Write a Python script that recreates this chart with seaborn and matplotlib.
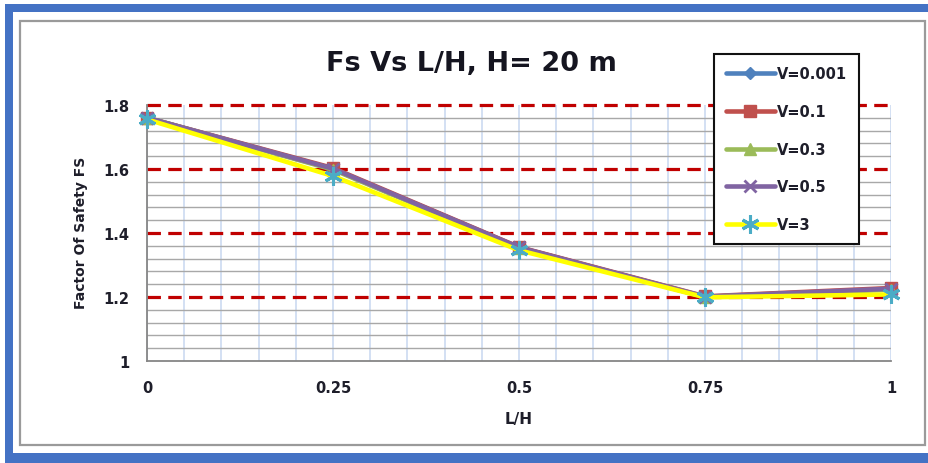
import matplotlib
matplotlib.use("Agg")
import matplotlib.pyplot as plt
import seaborn as sns
import pandas as pd
from matplotlib.patches import Rectangle
from matplotlib.ticker import MultipleLocator
from matplotlib.lines import Line2D

# ---- data ----
lh = [0, 0.25, 0.5, 0.75, 1]
v_labels = ["V=0.001", "V=0.1", "V=0.3", "V=0.5", "V=3"]
fs_v0001 = [1.760, 1.600, 1.355, 1.200, 1.225]
fs_v01 = [1.760, 1.603, 1.356, 1.202, 1.228]
fs_v03 = [1.760, 1.598, 1.353, 1.200, 1.223]
fs_v05 = [1.760, 1.601, 1.355, 1.201, 1.226]
fs_v3 = [1.755, 1.578, 1.346, 1.199, 1.208]
x_ticks = [0, 0.25, 0.5, 0.75, 1]
x_tick_labels = ["0", "0.25", "0.5", "0.75", "1"]
y_ticks = [1.0, 1.2, 1.4, 1.6, 1.8]
y_tick_labels = ["1", "1.2", "1.4", "1.6", "1.8"]

series = [fs_v0001, fs_v01, fs_v03, fs_v05, fs_v3]
df = pd.concat(
    [pd.DataFrame({"L/H": lh, "Fs": s, "V": lab}) for s, lab in zip(series, v_labels)],
    ignore_index=True,
)

sns.set_theme(style="white")
plt.rcParams["font.family"] = ["DejaVu Sans"]

W, H = 929, 464
fig = plt.figure(figsize=(W / 100, H / 100), dpi=100)
fig.patch.set_facecolor("white")

def px_rect(x0, y0, x1, y1, **kw):
    return Rectangle((x0 / W, 1 - y1 / H), (x1 - x0) / W, (y1 - y0) / H,
                     transform=fig.transFigure, **kw)

blue = "#4472C4"
fig.patches.append(px_rect(5, 5, 929, 13, facecolor=blue, edgecolor="none"))
fig.patches.append(px_rect(5, 5, 13, 464, facecolor=blue, edgecolor="none"))
fig.patches.append(px_rect(5, 454, 929, 464, facecolor=blue, edgecolor="none"))
fig.patches.append(px_rect(20, 22, 925, 446, facecolor="none", edgecolor="#9A9A9A", lw=1.6))

ax = fig.add_axes([147 / W, 1 - 362 / H, (891 - 147) / W, (362 - 106) / H])
ax.set_facecolor("white")

styles = {
    "V=0.001": dict(color="#4F81BD", marker="D", ms=6, mfc="#4F81BD", mec="#4F81BD", mew=1),
    "V=0.1": dict(color="#C0504D", marker="s", ms=9, mfc="#C0504D", mec="#C0504D", mew=1),
    "V=0.3": dict(color="#9BBB59", marker="^", ms=9, mfc="#9BBB59", mec="#9BBB59", mew=1),
    "V=0.5": dict(color="#8064A2", marker="x", ms=9, mfc="#8064A2", mec="#8064A2", mew=2),
    "V=3": dict(color="#FFFF00", marker=(6, 2, 0), ms=13, mfc="#4BACC6", mec="#4BACC6", mew=2.2),
}

for lab in v_labels:
    st = styles[lab]
    sub = df[df["V"] == lab]
    sns.lineplot(data=sub, x="L/H", y="Fs", ax=ax, color=st["color"], lw=3.3,
                 marker=st["marker"], markersize=st["ms"], markerfacecolor=st["mfc"],
                 markeredgecolor=st["mec"], markeredgewidth=st["mew"],
                 clip_on=False, zorder=5, legend=False)

ax.set_xlim(0, 1)
ax.set_ylim(1.0, 1.8)
ax.set_xticks(x_ticks)
ax.set_xticklabels(x_tick_labels)
ax.set_yticks(y_ticks)
ax.set_yticklabels(y_tick_labels)
ax.xaxis.set_minor_locator(MultipleLocator(0.05))
ax.yaxis.set_minor_locator(MultipleLocator(0.04))

ax.grid(which="both", axis="x", color="#D3E0F3", lw=1.4, zorder=0)
ax.grid(which="minor", axis="y", color="#A8A8A8", lw=1.0, zorder=0)
for yv in y_ticks[1:]:
    ax.axhline(yv, color="#C00000", lw=2.3, ls=(0, (4.2, 2.3)), zorder=1, clip_on=False)
ax.set_axisbelow(True)

for s in ["top", "right"]:
    ax.spines[s].set_visible(False)
for s in ["left", "bottom"]:
    ax.spines[s].set_color("#868686")
    ax.spines[s].set_linewidth(1.3)

ax.tick_params(axis="both", which="major", direction="out", length=4.5, width=1.2,
               color="#868686", labelsize=10.5, labelcolor="#1E1E2A")
ax.tick_params(axis="y", which="major", pad=8)
ax.tick_params(axis="x", which="major", pad=9)
ax.tick_params(axis="both", which="minor", length=0)
for t in ax.get_xticklabels() + ax.get_yticklabels():
    t.set_fontweight("bold")

ax.set_xlabel("L/H", fontsize=11, fontweight="bold", color="#1E1E2A")
ax.set_ylabel("Factor Of Safety FS", fontsize=10, fontweight="bold", color="#1E1E2A")
ax.xaxis.set_label_coords((519 - 147) / 744, (362 - 412) / 256)
ax.yaxis.set_label_coords((88 - 147) / 744, (362 - 233) / 256)

ax.set_title("Fs Vs L/H, H= 20 m", fontsize=19.5, fontweight="bold", color="#151520",
             x=(471 - 147) / 744, y=(362 - 72) / 256, va="center")

handles = []
for lab in v_labels:
    st = styles[lab]
    handles.append(Line2D([], [], color=st["color"], lw=3.3, marker=st["marker"],
                          markersize=st["ms"], markerfacecolor=st["mfc"],
                          markeredgecolor=st["mec"], markeredgewidth=st["mew"]))
leg = ax.legend(handles, v_labels, loc="upper left",
                bbox_to_anchor=(714 / W, 1 - 55 / H), bbox_transform=fig.transFigure,
                frameon=True, fancybox=False, edgecolor="#111111", framealpha=1,
                fontsize=10.5, handlelength=3.3, handletextpad=0.15,
                labelspacing=1.55, borderpad=0.85, borderaxespad=0)
leg.get_frame().set_linewidth(1.5)
for t in leg.get_texts():
    t.set_fontweight("bold")
    t.set_color("#1E1E2A")
leg.set_zorder(10)

fig.savefig("out.png", dpi=100, facecolor="white")
